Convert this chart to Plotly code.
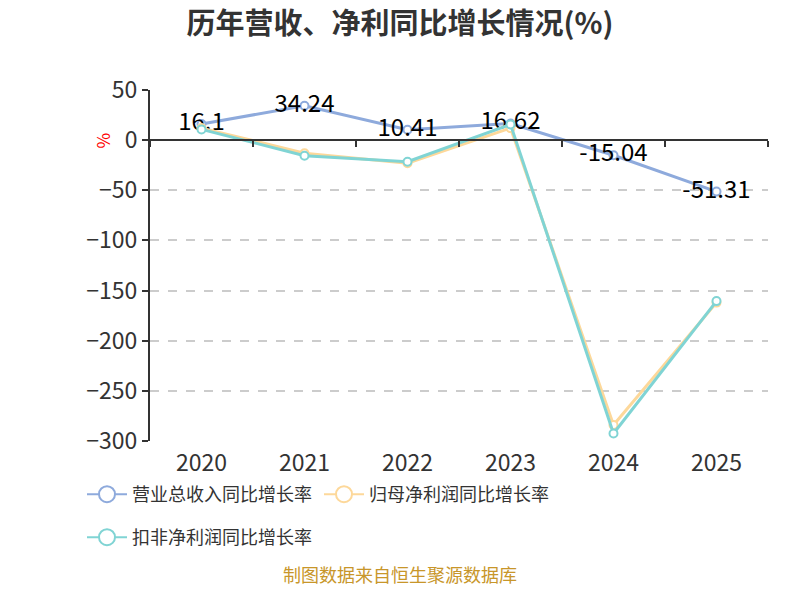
import plotly.graph_objects as go

years = ["2020", "2021", "2022", "2023", "2024", "2025"]
revenue_growth = [16.1, 34.24, 10.41, 16.62, -15.04, -51.31]
net_profit_growth = [12.0, -13.0, -23.0, 12.0, -284.0, -162.0]
deducted_profit_growth = [10.7, -15.5, -21.5, 15.7, -292.5, -160.5]

names = ["营业总收入同比增长率", "归母净利润同比增长率", "扣非净利润同比增长率"]
colors = ["#8eaadc", "#fdd89a", "#80d4d4"]
y_range = [-300, 50]

FONT = "Noto Sans CJK SC, Microsoft YaHei, sans-serif"

fig = go.Figure()
series = [revenue_growth, net_profit_growth, deducted_profit_growth]
for i, (vals, name, col) in enumerate(zip(series, names, colors)):
    fig.add_trace(go.Scatter(
        x=years, y=vals, name=name, showlegend=False,
        mode="lines+markers+text" if i == 0 else "lines+markers",
        text=[f"{v:g}" for v in vals] if i == 0 else None,
        textposition="middle center",
        textfont=dict(size=24, color="#000000", family=FONT),
        line=dict(color=col, width=3),
        marker=dict(symbol="circle", size=8, color="#ffffff",
                    line=dict(color=col, width=2)),
        cliponaxis=False,
    ))

# legend entries (larger symbols, as in the reference)
for i, (name, col) in enumerate(zip(names, colors)):
    fig.add_trace(go.Scatter(
        x=[years[0]], y=[None], name=name, mode="lines+markers",
        line=dict(color=col, width=2),
        marker=dict(symbol="circle", size=16, color="#ffffff",
                    line=dict(color=col, width=2)),
        legend="legend" if i < 2 else "legend2", hoverinfo="skip",
    ))

zero_pos = (0 - y_range[0]) / (y_range[1] - y_range[0])

legend_common = dict(orientation="h", xanchor="left", yanchor="top",
                     font=dict(size=18, color="#333333", family=FONT),
                     entrywidth=182, entrywidthmode="pixels", itemwidth=40,
                     bgcolor="rgba(0,0,0,0)")

fig.update_layout(
    width=800, height=600,
    margin=dict(l=150, r=32, t=90, b=159),
    paper_bgcolor="white", plot_bgcolor="white",
    font=dict(family=FONT, color="#333333"),
    title=dict(text="<b>历年营收、净利同比增长情况(%)</b>", x=0.5, xanchor="center",
               y=1 - 24 / 600, yanchor="middle",
               font=dict(size=29, color="#333333", family=FONT)),
    xaxis=dict(type="category", categoryorder="array", categoryarray=years,
               range=[-0.5, len(years) - 0.5],
               showline=False, showgrid=False, zeroline=False, ticks="",
               tickfont=dict(size=23, color="#333333"), ticklabelstandoff=6),
    xaxis2=dict(type="category", overlaying="x", matches="x", anchor="free",
                position=zero_pos, showline=True, linecolor="#333333", linewidth=2,
                ticks="outside", ticklen=6, tickwidth=2, tickcolor="#333333",
                tickson="boundaries", showticklabels=False, showgrid=False,
                zeroline=False, categoryorder="array", categoryarray=years),
    yaxis=dict(range=y_range, dtick=50, showline=True, linecolor="#333333",
               linewidth=2, ticks="outside", ticklen=6, tickwidth=2,
               tickcolor="#333333",
               showgrid=True, gridcolor="#cccccc", griddash="dash", gridwidth=1.5,
               zeroline=False, tickfont=dict(size=23, color="#333333")),
    legend=dict(x=(82 - 150) / 618, y=(441 - 476) / 351, **legend_common),
    legend2=dict(x=(82 - 150) / 618, y=(441 - 519) / 351, **legend_common),
    showlegend=True,
)

# dummy trace to render xaxis2
fig.add_trace(go.Scatter(x=years, y=[None] * len(years), xaxis="x2",
                         showlegend=False, hoverinfo="skip"))

fig.add_annotation(text="%", textangle=-90, xref="paper", yref="paper",
                   x=(87 - 150) / 618, y=(441 - 131) / 351, showarrow=False,
                   font=dict(size=17, color="#ff0000", family=FONT))
fig.add_annotation(text="制图数据来自恒生聚源数据库", xref="paper", yref="paper",
                   x=(400 - 150) / 618, y=(441 - 589) / 351, showarrow=False,
                   font=dict(size=18, color="#c8962a", family=FONT))

fig.write_html("out.html")
